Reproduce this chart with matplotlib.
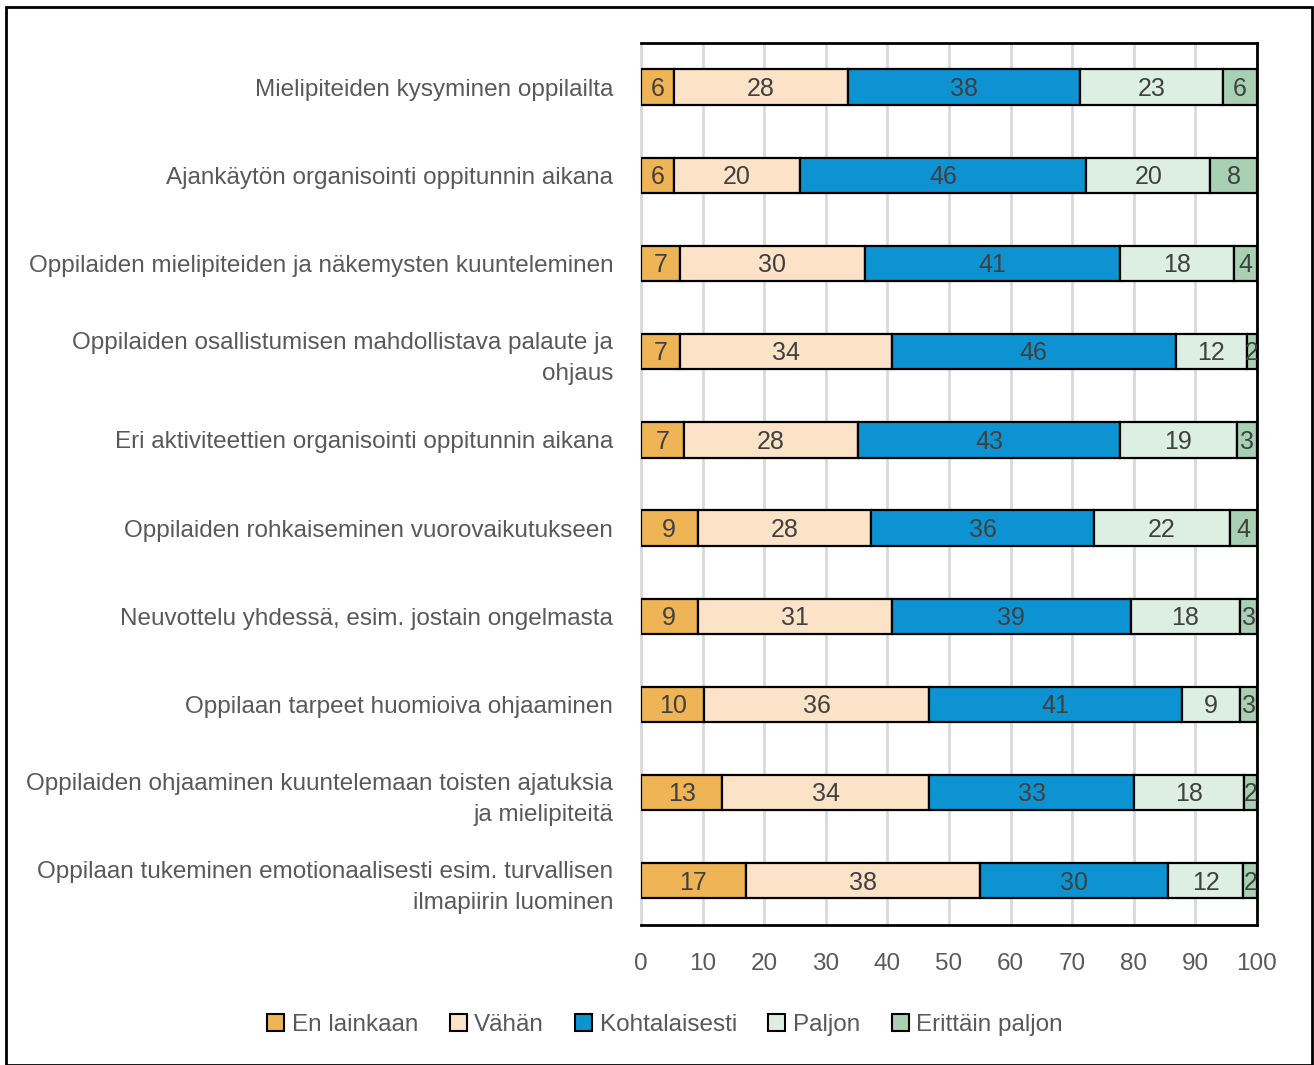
import matplotlib.pyplot as plt
from matplotlib.patches import Patch, Rectangle
import numpy as np

plt.rcParams["font.family"] = ["Liberation Sans", "DejaVu Sans"]

categories = [
    "Mielipiteiden kysyminen oppilailta",
    "Ajankäytön organisointi oppitunnin aikana",
    "Oppilaiden mielipiteiden ja näkemysten kuunteleminen",
    "Oppilaiden osallistumisen mahdollistava palaute ja\nohjaus",
    "Eri aktiviteettien organisointi oppitunnin aikana",
    "Oppilaiden rohkaiseminen vuorovaikutukseen",
    "Neuvottelu yhdessä, esim. jostain ongelmasta",
    "Oppilaan tarpeet huomioiva ohjaaminen",
    "Oppilaiden ohjaaminen kuuntelemaan toisten ajatuksia\nja mielipiteitä",
    "Oppilaan tukeminen emotionaalisesti esim. turvallisen\nilmapiirin luominen",
]
series = ["En lainkaan", "Vähän", "Kohtalaisesti", "Paljon", "Erittäin paljon"]
colors = ["#EFB455", "#FCE3C8", "#0E93D2", "#DDEFE2", "#A7D1B2"]

# bar widths (%)
en_lainkaan = [5.4, 5.4, 6.4, 6.4, 7.0, 9.2, 9.2, 10.3, 13.2, 17.0]
vahan = [28.2, 20.4, 29.9, 34.3, 28.2, 28.2, 31.5, 36.5, 33.6, 38.1]
kohtalaisesti = [37.7, 46.5, 41.5, 46.1, 42.6, 36.1, 38.8, 41.0, 33.2, 30.5]
paljon = [23.2, 20.1, 18.4, 11.5, 18.9, 22.2, 17.8, 9.5, 17.9, 12.2]
erittain = [5.5, 7.6, 3.8, 1.7, 3.3, 4.3, 2.7, 2.7, 2.1, 2.2]

# data labels shown on the bars
lab_en = [6, 6, 7, 7, 7, 9, 9, 10, 13, 17]
lab_vahan = [28, 20, 30, 34, 28, 28, 31, 36, 34, 38]
lab_koht = [38, 46, 41, 46, 43, 36, 39, 41, 33, 30]
lab_paljon = [23, 20, 18, 12, 19, 22, 18, 9, 18, 12]
lab_err = [6, 8, 4, 2, 3, 4, 3, 3, 2, 2]

widths = [en_lainkaan, vahan, kohtalaisesti, paljon, erittain]
labels = [lab_en, lab_vahan, lab_koht, lab_paljon, lab_err]

fs = 17.5

fig = plt.figure(figsize=(13.14, 10.65), dpi=100)
ax = fig.add_axes([0.4878, 0.1315, 0.4688, 0.8281])

y = np.arange(len(categories))
left = np.zeros(len(categories))
for w, lab, col in zip(widths, labels, colors):
    w = np.array(w)
    ax.barh(y, w, left=left, height=0.40, color=col, edgecolor="black",
            linewidth=1.6, zorder=3)
    for yi, li, wi, li_val in zip(y, left, w, lab):
        ax.text(li + wi / 2, yi + 0.02, str(li_val), ha="center", va="center",
                fontsize=18, color="#404040", zorder=4, clip_on=True)
    left += w

ax.set_xlim(0, 100)
ax.set_ylim(len(categories) - 0.5, -0.5)
ax.set_xticks(range(0, 101, 10))
ax.set_yticks(y)
ax.set_yticklabels(categories, fontsize=fs, color="#595959", linespacing=1.5)
ax.tick_params(axis="y", length=0, pad=20)
ax.tick_params(axis="x", length=0, pad=20, labelsize=fs, labelcolor="#595959")
ax.grid(axis="x", color="#D9D9D9", linewidth=2, zorder=0)
for s in ["top", "right", "bottom"]:
    ax.spines[s].set_color("black")
    ax.spines[s].set_linewidth(2)
ax.spines["left"].set_color("#D9D9D9")
ax.spines["left"].set_linewidth(2)

handles = [Patch(facecolor=c, edgecolor="black", linewidth=1.5) for c in colors]
fig.legend(handles, series, loc="center", bbox_to_anchor=(0.506, 0.038),
           ncol=5, frameon=False, fontsize=fs, labelcolor="#595959",
           handlelength=0.7, handleheight=0.7, handletextpad=0.3,
           columnspacing=1.3)

fig.patches.append(Rectangle((0.0046, 0.0), 0.9939, 0.9934, transform=fig.transFigure,
                             fill=False, edgecolor="black", linewidth=2))

fig.savefig("out.png", dpi=100)
